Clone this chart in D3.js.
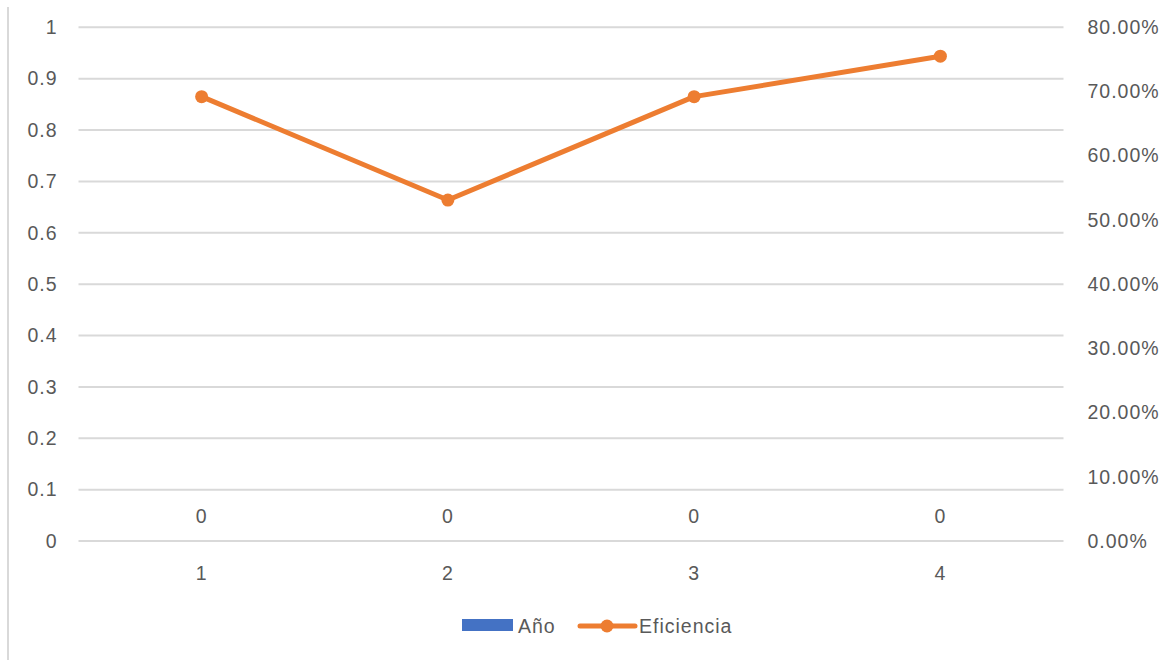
<!DOCTYPE html>
<html><head><meta charset="utf-8">
<script src="https://cdn.jsdelivr.net/npm/d3@7"></script>
<style>
html,body{margin:0;padding:0;background:#fff;}
text{font-family:"Liberation Sans",Arial,sans-serif;fill:#595959;letter-spacing:1px;}
</style></head>
<body><svg id="c" width="1170" height="660"></svg>
<script>
const categories = ["1","2","3","4"];
const anoValues = [0,0,0,0];
const eficiencia = [0.692,0.531,0.692,0.755];
const leftTicks = [0,0.1,0.2,0.3,0.4,0.5,0.6,0.7,0.8,0.9,1];
const rightTicks = [0,0.1,0.2,0.3,0.4,0.5,0.6,0.7,0.8];
const seriesNames = ["Año","Eficiencia"];

(function(){
const svg = d3.select("#c");
const fs = 19.5;
const pL = 78.5, pR = 1063.5, pT = 27.3, pB = 541;
const x = d3.scaleBand().domain(categories).range([pL,pR]);
const yL = d3.scaleLinear().domain([0,1]).range([pB,pT]);
const yR = d3.scaleLinear().domain([0,0.8]).range([pB,pT]);

svg.append("line").attr("x1",8).attr("x2",8).attr("y1",7).attr("y2",660)
  .attr("stroke","#D9D9D9").attr("stroke-width",2);

svg.append("g").selectAll("line").data(leftTicks).join("line")
  .attr("x1",pL).attr("x2",pR)
  .attr("y1",d=>yL(d)).attr("y2",d=>yL(d))
  .attr("stroke","#D9D9D9").attr("stroke-width",2);

const gl = svg.append("g").attr("transform",`translate(${pL},0)`)
  .call(d3.axisLeft(yL).tickValues(leftTicks).tickFormat(d3.format("")).tickSize(0).tickPadding(21));
gl.select(".domain").remove();
gl.selectAll("text").attr("font-size",fs).attr("fill","#595959").attr("font-family",null);

const gr = svg.append("g").attr("transform",`translate(${pR},0)`)
  .call(d3.axisRight(yR).tickValues(rightTicks).tickFormat(d3.format(".2%")).tickSize(0).tickPadding(24));
gr.select(".domain").remove();
gr.selectAll("text").attr("font-size",fs).attr("fill","#595959").attr("font-family",null);

const gx = svg.append("g").attr("transform",`translate(0,${pB})`)
  .call(d3.axisBottom(x).tickSize(0).tickPadding(25));
gx.select(".domain").remove();
gx.selectAll("text").attr("font-size",fs).attr("fill","#595959").attr("font-family",null);

svg.append("g").selectAll("rect").data(anoValues).join("rect")
  .attr("x",(d,i)=>x(categories[i])+x.bandwidth()*0.3)
  .attr("width",x.bandwidth()*0.4)
  .attr("y",d=>yL(d)).attr("height",d=>yL(0)-yL(d))
  .attr("fill","#4472C4");
svg.append("g").selectAll("text").data(anoValues).join("text")
  .attr("x",(d,i)=>x(categories[i])+x.bandwidth()/2)
  .attr("y",d=>yL(d)-25).attr("dy","0.35em")
  .attr("text-anchor","middle").attr("font-size",fs)
  .text(d=>d);

const line = d3.line().x((d,i)=>x(categories[i])+x.bandwidth()/2).y(d=>yR(d));
svg.append("path").datum(eficiencia).attr("d",line)
  .attr("fill","none").attr("stroke","#ED7D31").attr("stroke-width",5)
  .attr("stroke-linejoin","round").attr("stroke-linecap","round");
svg.append("g").selectAll("circle").data(eficiencia).join("circle")
  .attr("cx",(d,i)=>x(categories[i])+x.bandwidth()/2)
  .attr("cy",d=>yR(d)).attr("r",6.5).attr("fill","#ED7D31");

const lg = svg.append("g");
lg.append("rect").attr("x",462).attr("y",619).attr("width",51).attr("height",12).attr("fill","#4472C4");
lg.append("text").attr("x",518).attr("y",626).attr("dy","0.35em").attr("font-size",fs).text(seriesNames[0]);
lg.append("line").attr("x1",580).attr("x2",635).attr("y1",626).attr("y2",626)
  .attr("stroke","#ED7D31").attr("stroke-width",5).attr("stroke-linecap","round");
lg.append("circle").attr("cx",607).attr("cy",626).attr("r",6.5).attr("fill","#ED7D31");
lg.append("text").attr("x",639).attr("y",626).attr("dy","0.35em").attr("font-size",fs).text(seriesNames[1]);
})();
</script></body></html>
